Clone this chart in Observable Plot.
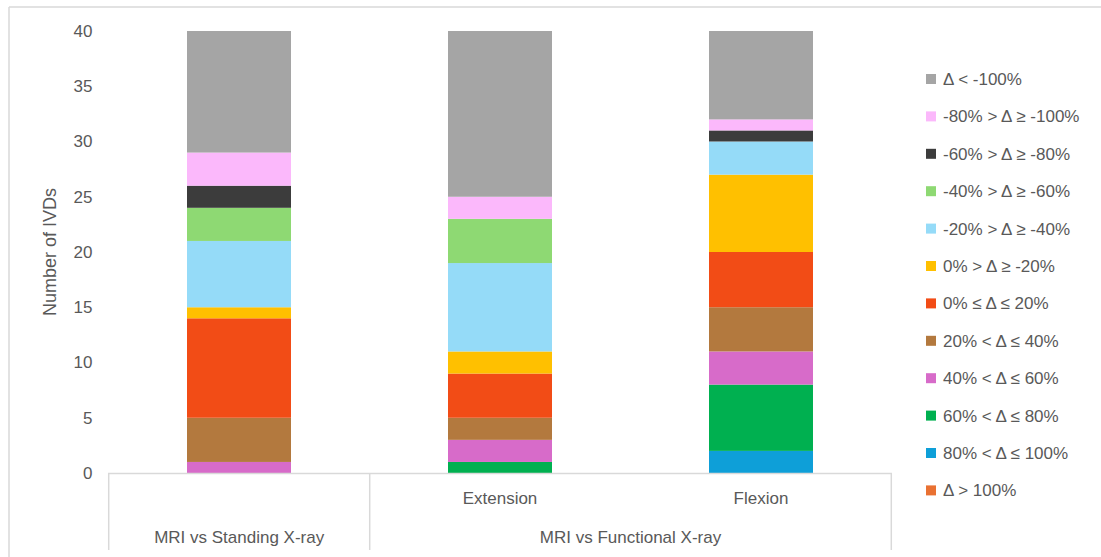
<!DOCTYPE html>
<html>
<head>
<meta charset="utf-8">
<script src="https://cdn.jsdelivr.net/npm/d3@7"></script>
<script src="https://cdn.jsdelivr.net/npm/@observablehq/plot@0.6"></script>
<style>
  html, body { margin: 0; padding: 0; background: #fff; }
  #chart { position: relative; width: 1101px; height: 557px; }
</style>
</head>
<body>
<div id="chart"></div>
<script>
// Comparison keys, their sub-labels and their group labels
const comparisons = ["standing", "extension", "flexion"];
const positions = ["", "Extension", "Flexion"];
const groups = ["MRI vs Standing X-ray", "MRI vs Functional X-ray", "MRI vs Functional X-ray"];

// Change bins, stacked bottom to top
const bins = [
  "Δ > 100%",
  "80% < Δ ≤ 100%",
  "60% < Δ ≤ 80%",
  "40% < Δ ≤ 60%",
  "20% < Δ ≤ 40%",
  "0% ≤ Δ ≤ 20%",
  "0% > Δ ≥ -20%",
  "-20% > Δ ≥ -40%",
  "-40% > Δ ≥ -60%",
  "-60% > Δ ≥ -80%",
  "-80% > Δ ≥ -100%",
  "Δ < -100%"
];
const binColors = [
  "#E97132", "#0E9FD8", "#00B050", "#D76BC9", "#B3793E", "#F24C16",
  "#FFC000", "#95DBF8", "#8ED973", "#3C3C3C", "#FBB8FB", "#A5A5A5"
];

// Number of IVDs per bin: [standing, extension, flexion]
const countsGT100   = [0, 0, 0];
const counts80to100 = [0, 0, 2];
const counts60to80  = [0, 1, 6];
const counts40to60  = [1, 2, 3];
const counts20to40  = [4, 2, 4];
const counts0to20   = [9, 4, 5];
const countsN0toN20 = [1, 2, 7];
const countsN20toN40 = [6, 8, 3];
const countsN40toN60 = [3, 4, 0];
const countsN60toN80 = [2, 0, 1];
const countsN80toN100 = [3, 2, 1];
const countsLTN100  = [11, 15, 8];

const seriesCounts = [
  countsGT100, counts80to100, counts60to80, counts40to60, counts20to40, counts0to20,
  countsN0toN20, countsN20toN40, countsN40toN60, countsN60toN80, countsN80toN100, countsLTN100
];

const yTicks = [0, 5, 10, 15, 20, 25, 30, 35, 40];

const rows = [];
bins.forEach((bin, i) => {
  comparisons.forEach((c, j) => rows.push({ comparison: c, bin, count: seriesCounts[i][j] }));
});

const W = 1101, H = 557;
const font = "'Liberation Sans', Arial, sans-serif";
const fontSize = 17;
const textColor = "#595959";
const lineColor = "#D9D9D9";

const plot = Plot.plot({
  width: W,
  height: H,
  marginLeft: 108,
  marginRight: 209,
  marginTop: 31,
  marginBottom: 84,
  style: { fontFamily: font, fontSize: fontSize + "px", color: textColor, background: "#fff" },
  x: { domain: comparisons, paddingInner: 0.6, paddingOuter: 0.3, axis: null },
  y: { domain: [0, 40], ticks: yTicks, label: null },
  color: { domain: bins, range: binColors },
  marks: [
    Plot.barY(rows, { x: "comparison", y: "count", fill: "bin", order: bins }),
    Plot.axisY({
      ticks: yTicks, tickSize: 0, tickPadding: 16, fill: textColor, fontSize, label: null
    }),
    Plot.ruleY([0], { stroke: lineColor, strokeWidth: 1.5 })
  ]
});

document.getElementById("chart").appendChild(plot);

// Category axis, dividers, frame and legend
const svg = d3.select(plot);
const xs = plot.scale("x");
const ys = plot.scale("y");
const bw = xs.bandwidth;
const step = xs.step;
const y0 = ys.apply(0);
const yTop = ys.apply(40);
const axisBottom = y0 + 77;

const left = xs.apply(comparisons[0]) - step * 0.3;
const right = xs.apply(comparisons[comparisons.length - 1]) + bw + step * 0.3;

const g = svg.append("g").attr("font-family", font).attr("font-size", fontSize).attr("fill", textColor);

// Vertical axis title
g.append("text")
  .attr("transform", `translate(50,${(y0 + yTop) / 2}) rotate(-90)`)
  .attr("text-anchor", "middle").attr("dy", "0.35em").attr("font-size", 18)
  .text("Number of IVDs");

// Group boundaries: outer edges plus every change of group
const bounds = [left];
comparisons.forEach((c, i) => {
  if (i > 0 && groups[i] !== groups[i - 1]) bounds.push(xs.apply(c) - step * 0.3);
});
bounds.push(right);
bounds.forEach(x => {
  g.append("line").attr("x1", x).attr("x2", x).attr("y1", y0).attr("y2", axisBottom)
    .attr("stroke", lineColor).attr("stroke-width", 1.5);
});

comparisons.forEach((c, i) => {
  if (!positions[i]) return;
  g.append("text").attr("x", xs.apply(c) + bw / 2).attr("y", y0 + 25)
    .attr("text-anchor", "middle").attr("dy", "0.35em").text(positions[i]);
});

const groupNames = Array.from(new Set(groups));
groupNames.forEach((name, k) => {
  const x1 = bounds[k], x2 = bounds[k + 1];
  g.append("text").attr("x", (x1 + x2) / 2).attr("y", y0 + 64)
    .attr("text-anchor", "middle").attr("dy", "0.35em").text(name);
});

// Outer chart border (top and left edges)
g.append("line").attr("x1", 9).attr("x2", W).attr("y1", 7).attr("y2", 7)
  .attr("stroke", lineColor).attr("stroke-width", 1.5);
g.append("line").attr("x1", 9).attr("x2", 9).attr("y1", 7).attr("y2", H)
  .attr("stroke", lineColor).attr("stroke-width", 1.5);

// Legend, top of stack first
const legend = g.append("g").attr("text-anchor", "start");
const legendOrder = bins.map((b, i) => i).reverse();
legendOrder.forEach((bi, k) => {
  const cy = 79 + k * 37.4;
  legend.append("rect").attr("x", 926).attr("y", cy - 5).attr("width", 10).attr("height", 10)
    .attr("fill", binColors[bi]);
  legend.append("text").attr("x", 943).attr("y", cy).attr("dy", "0.35em")
    .attr("text-anchor", "start").text(bins[bi]);
});
</script>
</body>
</html>
